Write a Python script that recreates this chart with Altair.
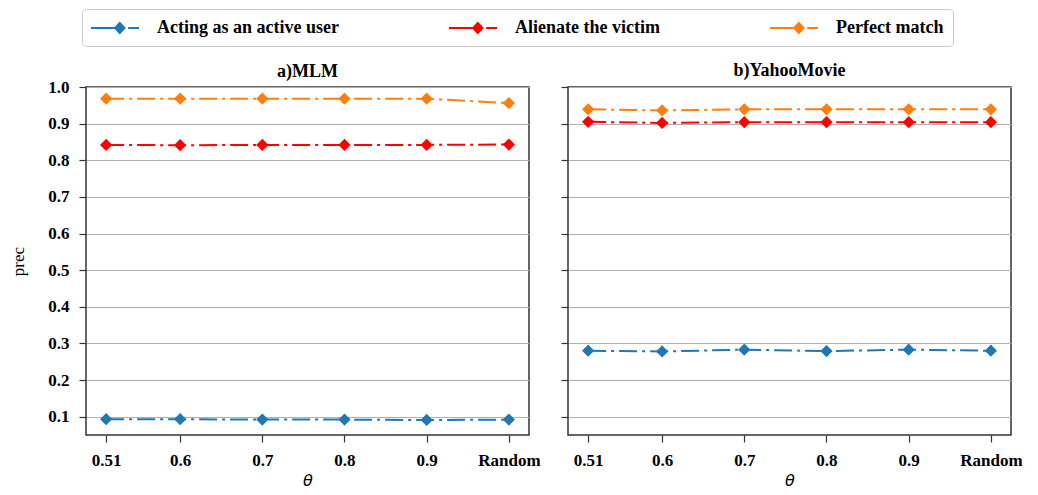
import altair as alt
import pandas as pd

thetas = [0.51, 0.6, 0.7, 0.8, 0.9, 1.0]
theta_labels = ["0.51", "0.6", "0.7", "0.8", "0.9", "Random"]
y_ticks = [0.1, 0.2, 0.3, 0.4, 0.5, 0.6, 0.7, 0.8, 0.9, 1.0]
series_names = ["Acting as an active user", "Alienate the victim", "Perfect match"]
series_colors = ["#1f77b4", "#ff0000", "#ff7f0e"]
panel_titles = ["a)MLM", "b)YahooMovie"]

mlm_active = [0.093, 0.093, 0.092, 0.092, 0.091, 0.092]
mlm_alienate = [0.842, 0.841, 0.842, 0.842, 0.842, 0.843]
mlm_perfect = [0.968, 0.968, 0.968, 0.968, 0.968, 0.956]

yahoo_active = [0.280, 0.278, 0.283, 0.279, 0.283, 0.280]
yahoo_alienate = [0.905, 0.902, 0.904, 0.904, 0.904, 0.904]
yahoo_perfect = [0.939, 0.936, 0.939, 0.939, 0.939, 0.939]


def make_df(active, alienate, perfect):
    rows = []
    for name, col, vals in zip(series_names, series_colors, [active, alienate, perfect]):
        for t, v in zip(thetas, vals):
            rows.append({"theta": t, "value": v, "series": name, "hex": col})
    return pd.DataFrame(rows)


label_expr = " : ".join(
    f"abs(datum.value - {t}) < 0.001 ? '{l}'" for t, l in zip(thetas, theta_labels)
) + " : ''"

# legend glyph: solid line, diamond, short dash (filled shapes, 10 px per unit)
legend_path = ("M-1,-0.1L1.88,-0.1L1.88,0.1L-1,0.1Z"
               "M2.72,-0.1L3.8,-0.1L3.8,0.1L2.72,0.1Z"
               "M1.88,-0.65L2.48,0L1.88,0.65L1.28,0Z")

legend = alt.Legend(
    orient="none", legendX=-4, legendY=-78, direction="horizontal", columns=3,
    symbolType=legend_path, symbolSize=400, symbolOpacity=1, symbolStrokeWidth=0,
    labelFont="Liberation Serif", labelFontWeight="bold", labelFontSize=18,
    labelColor="black", labelOffset=46, labelLimit=400, columnPadding=110,
    padding=9, strokeColor="#cccccc", cornerRadius=4, fillColor="white",
    title=None,
)

color_scale = alt.Scale(domain=series_names, range=series_colors)


def panel(df, title, first):
    yaxis = alt.Axis(values=y_ticks, format=".1f", labels=first,
                     title="prec" if first else "")
    base = alt.Chart(df).encode(
        x=alt.X("theta:Q",
                scale=alt.Scale(domain=[0.4855, 1.0245], nice=False, zero=False),
                axis=alt.Axis(values=thetas, labelExpr=label_expr, title="θ", grid=False)),
        y=alt.Y("value:Q",
                scale=alt.Scale(domain=[0.05, 1.0], nice=False, zero=False),
                axis=yaxis),
    )
    line = base.mark_line(strokeDash=[18, 5, 3, 5], strokeWidth=2).encode(
        stroke=alt.Stroke("hex:N", scale=None),
        detail="series:N",
    )
    pts = base.mark_point(shape="diamond", filled=True, size=150, opacity=1, strokeWidth=0).encode(
        fill=alt.Fill("series:N", scale=color_scale, legend=legend),
    )
    return alt.layer(line, pts).properties(
        width=443, height=348,
        title=alt.TitleParams(title, font="Liberation Serif", fontWeight="bold",
                              fontSize=18, offset=-3 if first else 6, color="black"),
    )


left = panel(make_df(mlm_active, mlm_alienate, mlm_perfect), panel_titles[0], True)
right = panel(make_df(yahoo_active, yahoo_alienate, yahoo_perfect), panel_titles[1], False)

chart = alt.hconcat(left, right, spacing=18).resolve_scale(
    fill="shared"
).resolve_legend(fill="shared").configure_view(
    stroke="#333333", strokeWidth=1.5
).configure_axis(
    labelFont="Liberation Serif", labelFontWeight="bold", labelFontSize=17,
    labelColor="black", tickColor="#333333", tickSize=7, tickWidth=1.2,
    domain=False, gridColor="#b0b0b0", gridWidth=1,
    titleFont="Liberation Serif", titleFontWeight="normal", titleFontSize=17,
    titleColor="black",
).configure_axisX(
    labelPadding=10, titlePadding=4, titleFont="DejaVu Sans", titleFontStyle="italic",
    titleFontSize=16,
).configure_axisY(
    labelPadding=10, titlePadding=20,
).properties(
    padding={"left": 1, "top": 0, "right": 5, "bottom": 2}
)

chart.save("out.html", embed_options={"renderer": "svg", "actions": False})
